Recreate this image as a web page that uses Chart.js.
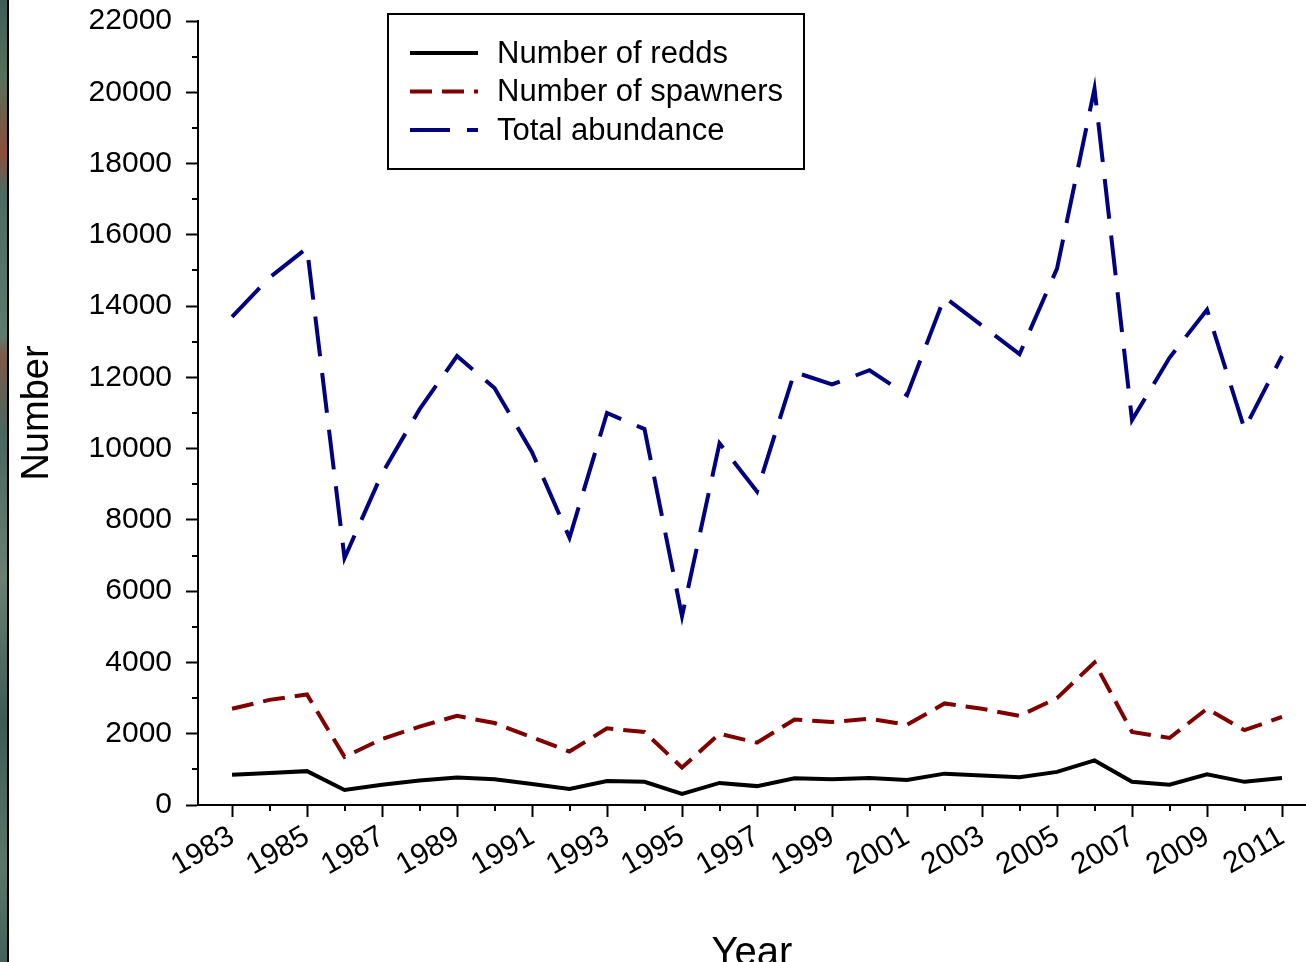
<!DOCTYPE html>
<html>
<head>
<meta charset="utf-8">
<title>Redds, spawners and total abundance 1983-2011</title>
<script src="https://cdn.jsdelivr.net/npm/chart.js@4.4.0/dist/chart.umd.min.js"></script>
<style>
  html, body { margin: 0; padding: 0; background: #fff; overflow: hidden; }
  #wrap { position: absolute; left: 0; top: 0; width: 1306px; height: 980px; }
  #edge {
    position: absolute; left: 0; top: 0; width: 7px; height: 962px; z-index: 2;
    border-right: 2px solid #000;
    background: linear-gradient(to bottom, #3f5d58 0%, #56705a 8%, #8a4e3c 16%, #4d6b63 20%,
      #5f7a6e 35%, #7d5a4a 37%, #4a6660 45%, #6b7f72 60%, #3e5a56 75%, #5c7668 90%, #44605b 100%);
  }
</style>
</head>
<body>
<div id="edge"></div>
<div id="wrap"><canvas id="chart"></canvas></div>
<script>
// survey years and counts
const years = [1983, 1984, 1985, 1986, 1987, 1988, 1989, 1990, 1991, 1992,
               1993, 1994, 1995, 1996, 1997, 1998, 1999, 2000, 2001, 2002,
               2003, 2004, 2005, 2006, 2007, 2008, 2009, 2010, 2011];

const redds = [850, 900, 950, 420, 570, 690, 770, 720, 590, 450,
               670, 650, 310, 620, 530, 750, 720, 760, 700, 880,
               830, 780, 930, 1250, 650, 570, 860, 650, 760];

const spawners = [2700, 2950, 3100, 1350, 1850, 2200, 2500, 2300, 1900, 1500,
                  2150, 2050, 1050, 2000, 1750, 2400, 2330, 2420, 2250, 2850,
                  2700, 2500, 3000, 4000, 2050, 1880, 2700, 2100, 2470];

const abundance = [13700, 14800, 15630, 6930, 9300, 11100, 12600, 11700, 9900, 7500,
                   11000, 10550, 5300, 10150, 8800, 12150, 11800, 12200, 11500, 14250,
                   13450, 12650, 15050, 20100, 10800, 12550, 13900, 10550, 12600];

// axis ticks: labelled (major) and unlabelled (minor)
const xMajorTicks = [1983, 1985, 1987, 1989, 1991, 1993, 1995, 1997, 1999,
                     2001, 2003, 2005, 2007, 2009, 2011];
const xMinorTicks = [1984, 1986, 1988, 1990, 1992, 1994, 1996, 1998,
                     2000, 2002, 2004, 2006, 2008, 2010];
const yMajorTicks = [0, 2000, 4000, 6000, 8000, 10000, 12000, 14000,
                     16000, 18000, 20000, 22000];
const yMinorTicks = [1000, 3000, 5000, 7000, 9000, 11000, 13000, 15000,
                     17000, 19000, 21000];

const FONT = '"Liberation Sans", Arial, Helvetica, sans-serif';

const toPoints = vals => vals.map((v, i) => ({ x: years[i], y: v }));

// small ticks between the labelled ones
const minorTicks = {
    id: 'minorTicks',
    afterDraw(chart) {
        const { ctx, scales: { x, y } } = chart;
        ctx.save();
        ctx.strokeStyle = '#000';
        ctx.lineWidth = 2;
        ctx.beginPath();
        xMinorTicks.forEach(v => {
            const px = Math.round(x.getPixelForValue(v));
            ctx.moveTo(px, x.top);
            ctx.lineTo(px, x.top + 6);
        });
        yMinorTicks.forEach(v => {
            const py = Math.round(y.getPixelForValue(v));
            ctx.moveTo(y.right, py);
            ctx.lineTo(y.right - 6, py);
        });
        ctx.stroke();
        ctx.restore();
    }
};

// framed legend in the upper left of the plot
const boxLegend = {
    id: 'boxLegend',
    afterDraw(chart) {
        const ctx = chart.ctx;
        ctx.save();
        ctx.fillStyle = '#fff';
        ctx.fillRect(388, 14, 416, 155);
        ctx.lineWidth = 2;
        ctx.strokeStyle = '#000';
        ctx.strokeRect(388, 14, 416, 155);
        ctx.font = '31px ' + FONT;
        ctx.textBaseline = 'middle';
        chart.data.datasets.forEach((ds, i) => {
            const yy = 53 + i * 38.5;
            ctx.beginPath();
            ctx.setLineDash(ds.borderDash || []);
            ctx.lineWidth = ds.borderWidth;
            ctx.strokeStyle = ds.borderColor;
            ctx.moveTo(410, yy);
            ctx.lineTo(478, yy);
            ctx.stroke();
            ctx.setLineDash([]);
            ctx.fillStyle = '#000';
            ctx.fillText(ds.label, 497, yy + 1);
        });
        ctx.restore();
    }
};

new Chart(document.getElementById('chart'), {
    type: 'line',
    data: {
        datasets: [
            {
                label: 'Number of redds',
                data: toPoints(redds),
                borderColor: '#000000',
                borderWidth: 4
            },
            {
                label: 'Number of spawners',
                data: toPoints(spawners),
                borderColor: '#800000',
                borderWidth: 4,
                borderDash: [22, 10]
            },
            {
                label: 'Total abundance',
                data: toPoints(abundance),
                borderColor: '#000080',
                borderWidth: 4,
                borderDash: [40, 17]
            }
        ]
    },
    options: {
        responsive: true,
        maintainAspectRatio: false,
        animation: false,
        devicePixelRatio: 1,
        layout: { padding: { left: 0, right: 0, top: 21, bottom: 0 } },
        elements: {
            point: { radius: 0, hoverRadius: 0 },
            line: { tension: 0, borderJoinStyle: 'miter', borderCapStyle: 'butt', fill: false }
        },
        plugins: {
            legend: { display: false },
            tooltip: { enabled: false }
        },
        scales: {
            x: {
                type: 'linear',
                min: 1982.093,
                max: 2011.64,
                afterBuildTicks: s => { s.ticks = xMajorTicks.map(v => ({ value: v })); },
                afterFit: s => { s.height = 175; },
                border: { display: true, color: '#000', width: 2 },
                grid: { drawOnChartArea: false, tickLength: 12, tickWidth: 2, tickColor: '#000' },
                ticks: {
                    autoSkip: false,
                    minRotation: 30,
                    maxRotation: 30,
                    padding: 2,
                    color: '#000',
                    font: { family: FONT, size: 30 },
                    callback: v => String(v)
                },
                title: {
                    display: true,
                    text: 'Year',
                    color: '#000',
                    font: { family: FONT, size: 40 },
                    padding: { top: 0, bottom: 2 }
                }
            },
            y: {
                min: 0,
                max: 22000,
                afterBuildTicks: s => { s.ticks = yMajorTicks.map(v => ({ value: v })); },
                afterFit: s => {
                    s.width = 198;
                    s.paddingTop = 0;
                    s.paddingBottom = 0;
                },
                border: { display: true, color: '#000', width: 2 },
                grid: { drawOnChartArea: false, tickLength: 12, tickWidth: 2, tickColor: '#000' },
                ticks: {
                    padding: 14,
                    color: '#000',
                    font: { family: FONT, size: 30 },
                    callback: v => String(v)
                },
                title: {
                    display: true,
                    text: 'Number',
                    color: '#000',
                    font: { family: FONT, size: 38 },
                    padding: { top: 15, bottom: 0 }
                }
            }
        }
    },
    plugins: [minorTicks, boxLegend]
});
</script>
</body>
</html>
